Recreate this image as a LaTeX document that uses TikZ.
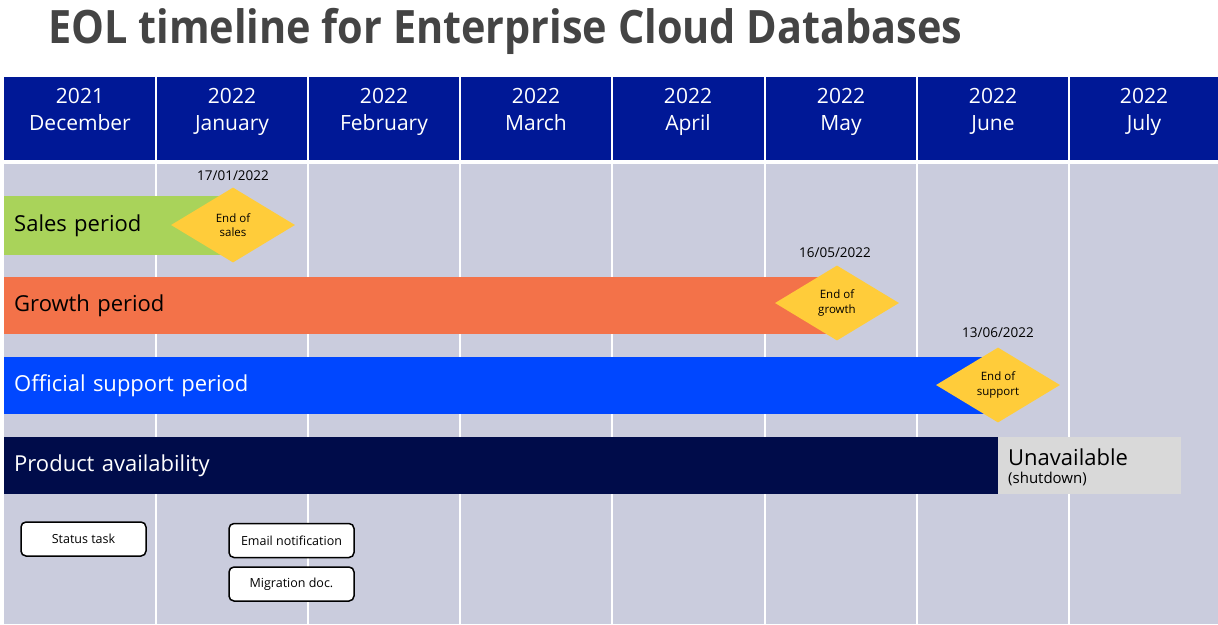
\documentclass[tikz,border=0pt]{standalone}
\usepackage{fontspec}
\setmainfont{Open Sans}
\usetikzlibrary{shapes.geometric}
\definecolor{hdrblue}{RGB}{0,24,150}
\definecolor{bodygray}{RGB}{202,204,221}
\definecolor{salesgreen}{RGB}{169,211,90}
\definecolor{growthorange}{RGB}{243,114,73}
\definecolor{supportblue}{RGB}{0,71,255}
\definecolor{availnavy}{RGB}{0,12,74}
\definecolor{unavgray}{RGB}{217,217,217}
\definecolor{milestone}{RGB}{255,204,58}
\definecolor{titlegray}{RGB}{68,68,68}
\tikzset{
  hdrtext/.style={text=white, align=center, font=\fontsize{21}{27}\selectfont, inner sep=0pt},
  bar/.style={anchor=north west, minimum height=#1, inner xsep=10pt, inner ysep=0pt, align=left, font=\fontsize{22}{26}\selectfont},
  diam/.style={diamond, fill=milestone, minimum width=124pt, minimum height=75pt, aspect=1.65, inner sep=0pt, align=center, font=\fontsize{11.5}{14.5}\selectfont},
  datetext/.style={font=\fontsize{13.5}{16}\selectfont, inner sep=0pt},
  taskbox/.style={draw=black, line width=1.5pt, fill=white, rounded corners=5pt, minimum width=125pt, minimum height=34pt, inner sep=0pt, font=\fontsize{12.5}{15}\selectfont},
}
\newcommand{\hdrcell}[2]{#1\strut\\#2\strut}
\begin{document}
\begin{tikzpicture}[x=1pt,y=-1pt]
\useasboundingbox (0,0) rectangle (1218,624);
\fill[white] (0,0) rectangle (1218,624);
\node[anchor=west, text=titlegray, inner sep=0pt] (title) at (48,31) {\scalebox{0.90}[1]{\fontsize{46}{50}\selectfont\bfseries EOL timeline for Enterprise Cloud Databases}};
\fill[hdrblue] (4,77) rectangle (1218,160);
\fill[bodygray] (4,164) rectangle (1218,624);
\foreach \x in {156,308,460,612,765,917,1069}
  \draw[white, line width=2pt] (\x,77) -- (\x,624);
\node[hdrtext] (m1) at (80,112) {\hdrcell{2021}{December}};
\node[hdrtext] (m2) at (232,112) {\hdrcell{2022}{January}};
\node[hdrtext] (m3) at (384,112) {\hdrcell{2022}{February}};
\node[hdrtext] (m4) at (536,112) {\hdrcell{2022}{March}};
\node[hdrtext] (m5) at (688,112) {\hdrcell{2022}{April}};
\node[hdrtext] (m6) at (841,112) {\hdrcell{2022}{May}};
\node[hdrtext] (m7) at (993,112) {\hdrcell{2022}{June}};
\node[hdrtext] (m8) at (1144,112) {\hdrcell{2022}{July}};
% bars
\node[bar=59pt, fill=salesgreen, text=black, minimum width=221pt, text width=201pt] (sales) at (4,196) {Sales period};
\node[bar=57pt, fill=growthorange, text=black, minimum width=831pt, text width=811pt] (growth) at (4,277) {Growth period};
\node[bar=57pt, fill=supportblue, text=white, minimum width=994pt, text width=974pt] (support) at (4,357) {Official support period};
\node[bar=57pt, fill=availnavy, text=white, minimum width=994pt, text width=974pt] (avail) at (4,437) {Product availability};
\node[anchor=north west, fill=unavgray, minimum width=183pt, minimum height=57pt, inner sep=0pt] (unav) at (998,437) {};
\node[anchor=base west, inner sep=0pt, font=\fontsize{22}{25}\selectfont] (unavtext) at (1008,465) {Unavailable};
\node[anchor=base west, inner sep=0pt, font=\fontsize{15}{17}\selectfont] (unavsub) at (1008,483) {(shutdown)};
% milestones
\node[diam] (endsales) at (233,225) {End of\\sales};
\node[datetext] (d1) at (233,176) {17/01/2022};
\node[diam] (endgrowth) at (837,303) {End of\\growth};
\node[datetext] (d2) at (835,253) {16/05/2022};
\node[diam] (endsupport) at (998,385) {End of\\support};
\node[datetext] (d3) at (998,333) {13/06/2022};
% tasks
\node[taskbox] (status) at (83.5,539) {Status task};
\node[taskbox] (email) at (291.5,540.5) {Email notification};
\node[taskbox] (migr) at (291.5,584) {Migration doc.};
\end{tikzpicture}
\end{document}
